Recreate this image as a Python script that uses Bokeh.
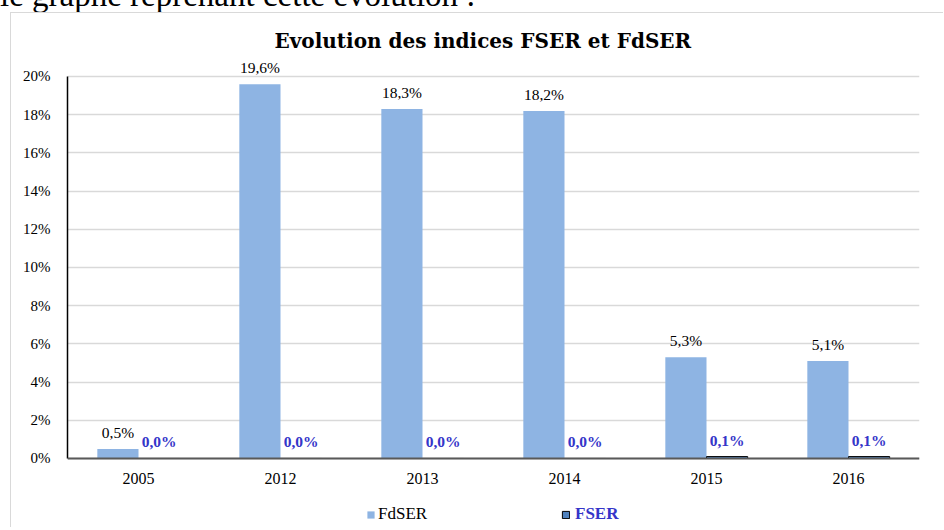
from bokeh.plotting import figure
from bokeh.models import ColumnDataSource, FactorRange, FixedTicker, Legend, LegendItem, Span, Div
from bokeh.layouts import column
from bokeh.transform import dodge
from bokeh.core.properties import value
from bokeh.embed import file_html
from bokeh.resources import INLINE

intro = "le graphe reprenant cette évolution :"
years = ["2005", "2012", "2013", "2014", "2015", "2016"]
fdser = [0.5, 19.6, 18.3, 18.2, 5.3, 5.1]
fser = [0.0, 0.0, 0.0, 0.0, 0.1, 0.1]
y_ticks = [0, 2, 4, 6, 8, 10, 12, 14, 16, 18, 20]

def fmt(v):
    return f"{v:.1f}".replace(".", ",") + "%"

src = ColumnDataSource(dict(
    year=years, fdser=fdser, fser=fser,
    zero=[0] * len(years),
    fdser_lbl=[fmt(v) for v in fdser],
    fser_lbl=[fmt(v) for v in fser],
))

FONT = "Liberation Serif"
BOLDFONT = "DejaVu Serif"
BLUE = "#3535c9"

# cut-off line of the surrounding document, above the chart box
div = Div(text=('<div style="position:relative; top:-21px; font-family:\'Liberation Serif\'; '
                'font-size:33px; line-height:33px; white-space:nowrap; color:#000">'
                + intro + '</div>'),
          width=600, height=12, margin=0)

# frame: 0% at y=458, 20% at y=76 (19.1 px per %), frame spans y=56..528
p = figure(x_range=FactorRange(*years, range_padding=0), y_range=(-3.665, 21.047),
           width=933, height=515, output_backend="svg", toolbar_location=None,
           min_border_left=56, min_border_right=25, min_border_top=43, min_border_bottom=0)
p.margin = (0, 0, 0, 10)
p.styles = {"border-top": "1px solid #d9d9d9", "border-left": "1px solid #d9d9d9"}
p.outline_line_color = None

p.title.text = "Evolution  des indices FSER et FdSER"
p.title.text_font = BOLDFONT
p.title.text_font_size = "20px"
p.title.text_font_style = "bold"
p.title.text_color = "#000000"
p.title.align = "left"
p.title.offset = 207
p.title.standoff = 8

w = 0.29
d = 0.145
r1 = p.vbar(x=dodge("year", -d, range=p.x_range), top="fdser", width=w, source=src,
            fill_color="#8eb4e3", line_color=None)
r2 = p.vbar(x=dodge("year", d, range=p.x_range), top="fser", width=w, source=src,
            fill_color="#4f81bd", line_color="#000000", line_width=1)

p.text(x=dodge("year", -d, range=p.x_range), y="fdser", text="fdser_lbl", source=src,
       text_font=value(FONT), text_font_size="15.5px", text_color="#000000",
       text_align="center", text_baseline="bottom", y_offset=-8)
p.text(x=dodge("year", d, range=p.x_range), y="fser", text="fser_lbl", source=src,
       text_font=value(FONT), text_font_size="15.5px", text_font_style="bold", text_color=BLUE,
       text_align="center", text_baseline="bottom", y_offset=-8)

# category labels under the baseline
p.text(x="year", y="zero", text="year", source=src,
       text_font=value(FONT), text_font_size="16px", text_color="#000000",
       text_align="center", text_baseline="top", y_offset=15)

# y axis
p.yaxis.ticker = FixedTicker(ticks=y_ticks)
p.yaxis.bounds = (0, 20)
p.yaxis.major_label_overrides = {t: f"{t}%" for t in y_ticks}
p.yaxis.major_tick_line_color = None
p.yaxis.minor_tick_line_color = None
p.yaxis.major_label_text_font = FONT
p.yaxis.major_label_text_font_size = "15px"
p.yaxis.major_label_text_color = "#000000"
p.yaxis.axis_line_color = "#000000"
p.yaxis.axis_line_width = 1.5
p.yaxis.major_label_standoff = 11
p.xaxis.visible = False

p.xgrid.grid_line_color = None
p.ygrid.grid_line_color = "#d9d9d9"
p.ygrid.grid_line_width = 1.5

# x baseline
p.add_layout(Span(location=0, dimension="width", line_color="#595959", line_width=2))

leg1 = Legend(items=[LegendItem(label="FdSER", renderers=[r1])], location=(299, 4),
              orientation="horizontal", padding=0, margin=0, border_line_color=None,
              background_fill_alpha=0, glyph_width=9, glyph_height=9, label_standoff=3,
              label_text_font=FONT, label_text_font_size="17px", label_text_color="#000000",
              label_height=18)
leg2 = Legend(items=[LegendItem(label="FSER", renderers=[r2])], location=(494, 4),
              orientation="horizontal", padding=0, margin=0, border_line_color=None,
              background_fill_alpha=0, glyph_width=9, glyph_height=9, label_standoff=5,
              label_text_font=FONT, label_text_font_size="17px", label_text_font_style="bold",
              label_text_color=BLUE, label_height=18)
p.add_layout(leg1, "center")
p.add_layout(leg2, "center")

layout = column(div, p, spacing=0, margin=0)
open("out.html", "w").write(file_html(layout, INLINE))
